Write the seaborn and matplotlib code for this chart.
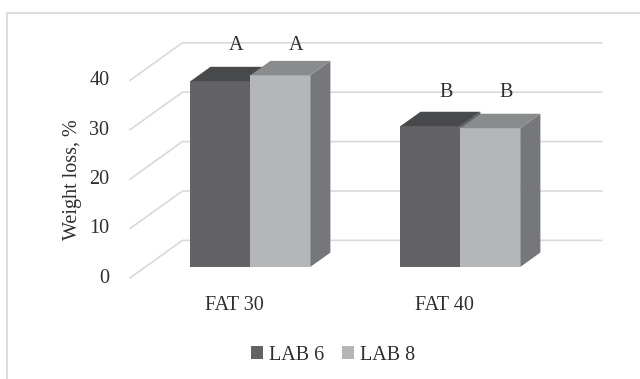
import matplotlib
matplotlib.use("Agg")
import matplotlib.pyplot as plt
from matplotlib.patches import Polygon, Patch
from matplotlib.lines import Line2D
import numpy as np
import pandas as pd
import seaborn as sns

# Weight loss (%) by fat level and starter strain
categories = ["FAT 30", "FAT 40"]
strains = ["LAB 6", "LAB 8"]
lab6_loss = [37.6, 28.5]
lab8_loss = [38.8, 28.1]
lab6_letters = ["A", "B"]
lab8_letters = ["A", "B"]
letter_height = [42.6, 33.1]
y_ticks = [0, 10, 20, 30, 40]

face_colors = {
    "LAB 6": dict(front="#636365", top="#48494b", side="#58595b"),
    "LAB 8": dict(front="#b5b6b8", top="#8a8b8d", side="#76777a"),
}
letters = {"LAB 6": lab6_letters, "LAB 8": lab8_letters}
text_color = "#2e2e2e"
grid_color = "#d9d9d9"
FS = 14.5

# oblique depth of the chart box, in pixels (right, up)
DEPTH_PX = (53.0, 38.0)
BAR_PLANE = 0.3      # bars' front faces sit this far into the box
BAR_DEPTH = 0.38     # bar depth as a fraction of the box depth

df = pd.DataFrame({
    "Fat": categories * 2,
    "Strain": [strains[0]] * len(categories) + [strains[1]] * len(categories),
    "Loss": lab6_loss + lab8_loss,
})

sns.set_theme(style="white")
plt.rcParams["font.family"] = ["Liberation Serif", "DejaVu Serif"]
plt.rcParams["font.size"] = FS

W, H = 640, 379
fig = plt.figure(figsize=(W / 100, H / 100), dpi=100)
fig.patch.set_facecolor("white")
ax = fig.add_axes([120 / W, 1 - 290 / H, 490 / W, 255 / H])

sns.barplot(data=df, x="Fat", y="Loss", hue="Strain", hue_order=strains,
            palette=[face_colors[s]["front"] for s in strains],
            width=0.571, saturation=1, errorbar=None, legend=False,
            linewidth=0, ax=ax)

ax.set_xlim(-0.6205, 1.7129)
ax.set_ylim(-4.656, 46.96)
ax.axis("off")


def depth(frac):
    """Data-space offset for moving `frac` of the box depth backwards."""
    p0 = ax.transData.transform((0.0, 0.0))
    q = ax.transData.inverted().transform(p0 + np.array(DEPTH_PX) * frac)
    return q[0], q[1]


fx, fy = depth(-BAR_PLANE)          # front edge of the floor
bx, by = depth(1 - BAR_PLANE)       # back wall
dx, dy = depth(BAR_DEPTH)           # bar depth
lx, ly = depth(0.3)                 # letter offset
x_left, x_right = -0.5, 1.5

# side wall + back wall gridlines
for v in y_ticks:
    ax.plot([x_left + fx, x_left + bx, x_right + bx],
            [v + fy, v + by, v + by],
            color=grid_color, lw=1.2, zorder=1, clip_on=False,
            solid_capstyle="butt")
    ax.annotate(str(v), xy=(x_left + fx, v + fy), xytext=(-20, 0),
                textcoords="offset pixels", ha="right", va="center",
                color=text_color, fontsize=FS)

for i, cat in enumerate(categories):
    ax.annotate(cat, xy=(i + fx, fy), xytext=(0, -27),
                textcoords="offset pixels", ha="center", va="center",
                color=text_color, fontsize=FS)

# extrude every bar into a box
bars = []
for strain, container in zip(strains, ax.containers):
    for k, bar in enumerate(container):
        bars.append((bar.get_x(), bar, strain, k))
bars.sort(key=lambda t: t[0])

for z, (_, bar, strain, k) in enumerate(bars):
    x0 = bar.get_x()
    x1 = x0 + bar.get_width()
    h = bar.get_height()
    cols = face_colors[strain]
    zo = 3 + z
    bar.set_zorder(zo)
    top = Polygon([(x0, h), (x1, h), (x1 + dx, h + dy), (x0 + dx, h + dy)],
                  closed=True, facecolor=cols["top"], edgecolor="none",
                  zorder=zo)
    side = Polygon([(x1, 0), (x1, h), (x1 + dx, h + dy), (x1 + dx, dy)],
                   closed=True, facecolor=cols["side"], edgecolor="none",
                   zorder=zo)
    ax.add_patch(side)
    ax.add_patch(top)
    ax.text(x0 + bar.get_width() / 2 + lx, letter_height[k] + ly,
            letters[strain][k], ha="center", va="center",
            color=text_color, fontsize=FS, zorder=20)

fig.text(72 / W, 1 - 180 / H, "Weight loss, %", rotation=90,
         ha="center", va="center", color=text_color, fontsize=FS)

handles = [Patch(facecolor=face_colors[s]["front"], edgecolor="none")
           for s in strains]
fig.legend(handles, strains, loc="center",
           bbox_to_anchor=(333 / W, 1 - 355 / H), ncol=2, frameon=False,
           handlelength=0.6, handleheight=0.6, handletextpad=0.3,
           columnspacing=0.9, fontsize=FS, labelcolor=text_color)

# outer chart frame
fig.add_artist(Line2D([7 / W, 7 / W], [0, 1 - 13 / H],
                      transform=fig.transFigure, color="#dcdcdc", lw=1.5))
fig.add_artist(Line2D([7 / W, 1], [1 - 13 / H, 1 - 13 / H],
                      transform=fig.transFigure, color="#dcdcdc", lw=1.5))

fig.savefig("out.png", dpi=100)
